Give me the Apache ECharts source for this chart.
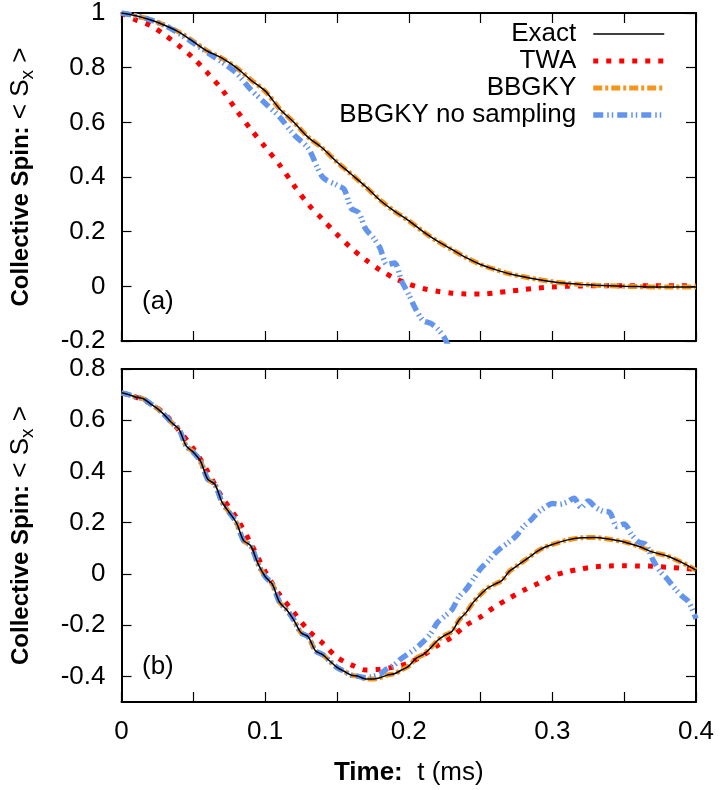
<!DOCTYPE html>
<html><head><meta charset="utf-8">
<script src="https://cdn.jsdelivr.net/npm/echarts@6/dist/echarts.min.js"></script>
<style>html,body{margin:0;padding:0;background:#fff}#c{width:720px;height:790px}</style>
</head><body><div id="c"></div>
<script>
// ---------- data ----------
const seriesNames = ['Exact', 'TWA', 'BBGKY', 'BBGKY no sampling'];
const xTickLabels = ['0', '0.1', '0.2', '0.3', '0.4'];

// panel (a)
const tA = [0,0.01,0.02,0.03,0.04,0.05,0.06,0.07,0.08,0.09,0.10,0.11,0.12,0.13,0.14,0.15,0.16,0.17,0.18,0.19,0.20,0.21,0.22,0.23,0.24,0.25,0.26,0.27,0.28,0.29,0.30,0.31,0.32,0.33,0.34,0.35,0.36,0.37,0.38,0.39,0.40];
const exactA = [1.0,0.99,0.975,0.955,0.93,0.895,0.86,0.835,0.80,0.755,0.715,0.65,0.60,0.545,0.505,0.455,0.41,0.365,0.315,0.275,0.24,0.20,0.165,0.135,0.105,0.08,0.062,0.046,0.035,0.025,0.017,0.011,0.007,0.004,0.002,0.0,-0.001,-0.002,-0.002,-0.002,-0.002];
const bbgkyA = [1.0,0.99,0.976,0.955,0.93,0.896,0.86,0.834,0.80,0.756,0.714,0.65,0.60,0.546,0.505,0.455,0.41,0.364,0.316,0.275,0.24,0.20,0.165,0.134,0.105,0.08,0.062,0.046,0.035,0.025,0.017,0.011,0.007,0.004,0.002,0.0,-0.001,-0.002,-0.002,-0.002,-0.002];
const twaA = [1.0,0.975,0.955,0.92,0.88,0.835,0.78,0.72,0.645,0.575,0.51,0.445,0.37,0.30,0.245,0.19,0.14,0.097,0.06,0.03,0.008,-0.008,-0.018,-0.025,-0.028,-0.028,-0.024,-0.018,-0.012,-0.006,-0.002,0.0,0.001,0.002,0.002,0.002,0.002,0.002,0.002,0.002,0.002];
const tNoSampA = [0,0.01,0.02,0.03,0.04,0.05,0.06,0.07,0.08,0.09,0.10,0.11,0.12,0.13,0.14,0.15,0.155,0.16,0.165,0.17,0.175,0.18,0.185,0.19,0.195,0.20,0.205,0.21,0.215,0.22,0.225,0.23,0.235];
const noSampA = [1.0,0.99,0.975,0.955,0.925,0.89,0.855,0.82,0.78,0.72,0.67,0.62,0.555,0.505,0.40,0.37,0.355,0.285,0.27,0.21,0.18,0.14,0.08,0.085,0.02,-0.03,-0.085,-0.125,-0.135,-0.155,-0.19,-0.25,-0.32];

// panel (b)
const tB = [0,0.005,0.01,0.015,0.02,0.025,0.03,0.035,0.04,0.045,0.05,0.055,0.06,0.065,0.07,0.075,0.08,0.085,0.09,0.095,0.10,0.105,0.11,0.115,0.12,0.125,0.13,0.135,0.14,0.145,0.15,0.155,0.16,0.165,0.17,0.175,0.18,0.185,0.19,0.195,0.20,0.205,0.21,0.215,0.22,0.225,0.23,0.235,0.24,0.245,0.25,0.255,0.26,0.265,0.27,0.275,0.28,0.285,0.29,0.295,0.30,0.31,0.32,0.33,0.34,0.35,0.36,0.37,0.38,0.39,0.40];
const exactB = [0.707,0.70,0.69,0.685,0.665,0.645,0.62,0.59,0.565,0.50,0.475,0.44,0.37,0.35,0.28,0.24,0.20,0.13,0.11,0.04,-0.01,-0.04,-0.11,-0.14,-0.18,-0.23,-0.245,-0.30,-0.315,-0.34,-0.365,-0.38,-0.395,-0.40,-0.41,-0.41,-0.405,-0.395,-0.39,-0.375,-0.36,-0.33,-0.315,-0.29,-0.26,-0.24,-0.225,-0.18,-0.15,-0.11,-0.08,-0.055,-0.04,-0.025,0.01,0.03,0.05,0.07,0.09,0.105,0.115,0.132,0.141,0.142,0.135,0.125,0.108,0.085,0.07,0.045,0.015];
const bbgkyB = [0.707,0.70,0.69,0.684,0.665,0.646,0.62,0.59,0.565,0.50,0.476,0.44,0.37,0.35,0.28,0.24,0.20,0.13,0.11,0.04,-0.01,-0.04,-0.11,-0.14,-0.18,-0.23,-0.245,-0.30,-0.315,-0.34,-0.365,-0.38,-0.395,-0.40,-0.41,-0.41,-0.405,-0.395,-0.39,-0.375,-0.36,-0.33,-0.315,-0.29,-0.26,-0.24,-0.225,-0.18,-0.15,-0.11,-0.08,-0.055,-0.04,-0.025,0.01,0.03,0.05,0.07,0.09,0.105,0.115,0.132,0.141,0.142,0.135,0.125,0.108,0.085,0.07,0.045,0.015];
const tTwaB = [0,0.01,0.02,0.03,0.04,0.05,0.06,0.07,0.08,0.09,0.10,0.11,0.12,0.13,0.14,0.15,0.16,0.17,0.18,0.19,0.20,0.21,0.22,0.23,0.24,0.25,0.26,0.27,0.28,0.29,0.30,0.31,0.32,0.33,0.34,0.35,0.36,0.37,0.38,0.39,0.40];
const twaB = [0.707,0.69,0.665,0.625,0.56,0.49,0.40,0.30,0.22,0.12,0.01,-0.08,-0.15,-0.22,-0.27,-0.325,-0.355,-0.375,-0.372,-0.363,-0.348,-0.318,-0.28,-0.247,-0.20,-0.168,-0.128,-0.095,-0.064,-0.037,-0.008,0.008,0.02,0.028,0.031,0.032,0.031,0.03,0.026,0.022,0.018];
const tNoSampB = [0,0.005,0.01,0.015,0.02,0.025,0.03,0.035,0.04,0.045,0.05,0.055,0.06,0.065,0.07,0.075,0.08,0.085,0.09,0.095,0.10,0.105,0.11,0.115,0.12,0.125,0.13,0.135,0.14,0.145,0.15,0.155,0.16,0.165,0.17,0.175,0.18,0.185,0.19,0.195,0.20,0.205,0.21,0.215,0.22,0.225,0.23,0.235,0.24,0.245,0.25,0.255,0.26,0.265,0.27,0.275,0.28,0.285,0.29,0.295,0.30,0.305,0.31,0.315,0.32,0.325,0.33,0.335,0.34,0.345,0.35,0.355,0.36,0.365,0.37,0.375,0.38,0.385,0.39,0.395,0.40];
const noSampB = [0.707,0.70,0.69,0.685,0.665,0.645,0.62,0.59,0.565,0.50,0.475,0.44,0.37,0.35,0.28,0.24,0.20,0.13,0.11,0.04,-0.01,-0.04,-0.11,-0.14,-0.18,-0.23,-0.245,-0.30,-0.315,-0.34,-0.365,-0.38,-0.395,-0.40,-0.405,-0.40,-0.39,-0.37,-0.355,-0.33,-0.31,-0.29,-0.265,-0.235,-0.19,-0.165,-0.14,-0.09,-0.06,-0.02,0.02,0.048,0.08,0.105,0.125,0.15,0.185,0.21,0.24,0.26,0.275,0.272,0.28,0.295,0.26,0.285,0.26,0.245,0.24,0.185,0.195,0.155,0.125,0.115,0.055,0.01,-0.02,-0.055,-0.085,-0.11,-0.175];

const yTicksB = [-0.4,-0.2,0,0.2,0.4,0.6,0.8];

// ---------- chart ----------
const FONT = 'Liberation Sans';
const pair = (t, v) => t.map((x, i) => [x, v[i]]);
const chart = echarts.init(document.getElementById('c'), null, {renderer: 'canvas'});

const styles = {
  'Exact': {color: '#000000', width: 1.5, type: 'solid', z: 6},
  'TWA': {color: '#ff0000', width: 5, type: [5, 8], z: 3},
  'BBGKY': {color: '#f7941d', width: 5, type: [9, 3, 3, 3], z: 4},
  'BBGKY no sampling': {color: '#6495ed', width: 5.5, type: [10, 4, 1.5, 3, 1.5, 4], z: 5}
};
function mk(name, data, xi, yi) {
  const s = styles[name];
  return {
    name, type: 'line', data, xAxisIndex: xi, yAxisIndex: yi,
    symbol: 'none', smooth: 0.3, clip: true, z: s.z, animation: false,
    lineStyle: {color: s.color, width: s.width, type: s.type, cap: 'butt'},
    itemStyle: {color: s.color}
  };
}

const tickFmt = v => String(+(+v).toFixed(2));
const axisLineStyle = {lineStyle: {color: '#000', width: 2}};
function xAx(gi, pos, labels) {
  return {
    type: 'value', gridIndex: gi, position: pos, min: 0, max: 0.4, interval: 0.05,
    axisLine: {show: true, onZero: false, ...axisLineStyle},
    axisTick: {show: true, inside: true, length: 10, lineStyle: {color: '#000', width: 1.2}},
    splitLine: {show: false},
    axisLabel: {show: labels, margin: 17, fontSize: 26, color: '#000', fontFamily: FONT,
      formatter: v => { const s = tickFmt(v); return xTickLabels.includes(s) ? s : ''; }}
  };
}
const nameRich = {
  b: {fontWeight: 'bold', fontSize: 24, fontFamily: FONT, color: '#000'},
  n: {fontSize: 26, fontFamily: FONT, color: '#000'},
  s: {fontSize: 19, fontFamily: FONT, color: '#000', padding: [14, 0, 0, 0]}
};
function yAx(gi, pos, labels, min, max, interval, custom) {
  const a = {
    type: 'value', gridIndex: gi, position: pos, min, max,
    axisLine: {show: true, onZero: false, ...axisLineStyle},
    axisTick: {show: true, inside: true, length: 10, lineStyle: {color: '#000', width: 1.2}},
    splitLine: {show: false},
    axisLabel: {show: labels, margin: 16, fontSize: 26, color: '#000', fontFamily: FONT, formatter: tickFmt}
  };
  if (interval) a.interval = interval;
  if (custom) { a.axisTick.customValues = custom; a.axisLabel.customValues = custom; }
  if (labels) {
    a.name = '{b|Collective Spin:}{n| < S}{s|x}{n| >}';
    a.nameLocation = 'middle';
    a.nameGap = 84;
    a.nameRotate = 90;
    a.nameTextStyle = {fontSize: 24, fontFamily: FONT, color: '#000', rich: nameRich};
  }
  return a;
}

chart.setOption({
  animation: false,
  backgroundColor: '#fff',
  grid: [
    {left: 117, top: 6, width: 579, height: 335},
    {left: 117, top: 369, width: 579, height: 333}
  ],
  xAxis: [
    xAx(0, 'bottom', false), xAx(0, 'top', false),
    Object.assign(xAx(1, 'bottom', true), {
      name: '{b|Time:}{n|  t (ms)}', nameLocation: 'middle', nameGap: 58,
      nameTextStyle: {fontSize: 26, fontFamily: FONT, color: '#000',
        rich: {b: {fontWeight: 'bold', fontSize: 26, fontFamily: FONT, color: '#000'},
               n: {fontSize: 26, fontFamily: FONT, color: '#000'}}}
    }),
    xAx(1, 'top', false)
  ],
  yAxis: [
    yAx(0, 'left', true, -0.2, 1, 0.2), yAx(0, 'right', false, -0.2, 1, 0.2),
    yAx(1, 'left', true, -0.5, 0.8, null, yTicksB), yAx(1, 'right', false, -0.5, 0.8, null, yTicksB)
  ],
  legend: {
    data: seriesNames, orient: 'vertical', align: 'right', right: 53, top: 21, padding: 0,
    itemWidth: 71, itemHeight: 14, itemGap: 1,
    lineStyle: {width: 'inherit', type: 'inherit'},
    itemStyle: {opacity: 0},
    textStyle: {fontSize: 26, fontFamily: FONT, color: '#000', padding: [0, 12, 0, 0]},
    selectedMode: false
  },
  graphic: [
    {type: 'text', left: 142, top: 289, style: {text: '(a)', fontSize: 26, fontFamily: FONT, fill: '#000'}},
    {type: 'text', left: 142, top: 654, style: {text: '(b)', fontSize: 26, fontFamily: FONT, fill: '#000'}}
  ],
  series: [
    mk('Exact', pair(tA, exactA), 0, 0),
    mk('TWA', pair(tA, twaA), 0, 0),
    mk('BBGKY', pair(tA, bbgkyA), 0, 0),
    mk('BBGKY no sampling', pair(tNoSampA, noSampA), 0, 0),
    mk('Exact', pair(tB, exactB), 2, 2),
    mk('TWA', pair(tTwaB, twaB), 2, 2),
    mk('BBGKY', pair(tB, bbgkyB), 2, 2),
    mk('BBGKY no sampling', pair(tNoSampB, noSampB), 2, 2)
  ]
});
</script></body></html>
